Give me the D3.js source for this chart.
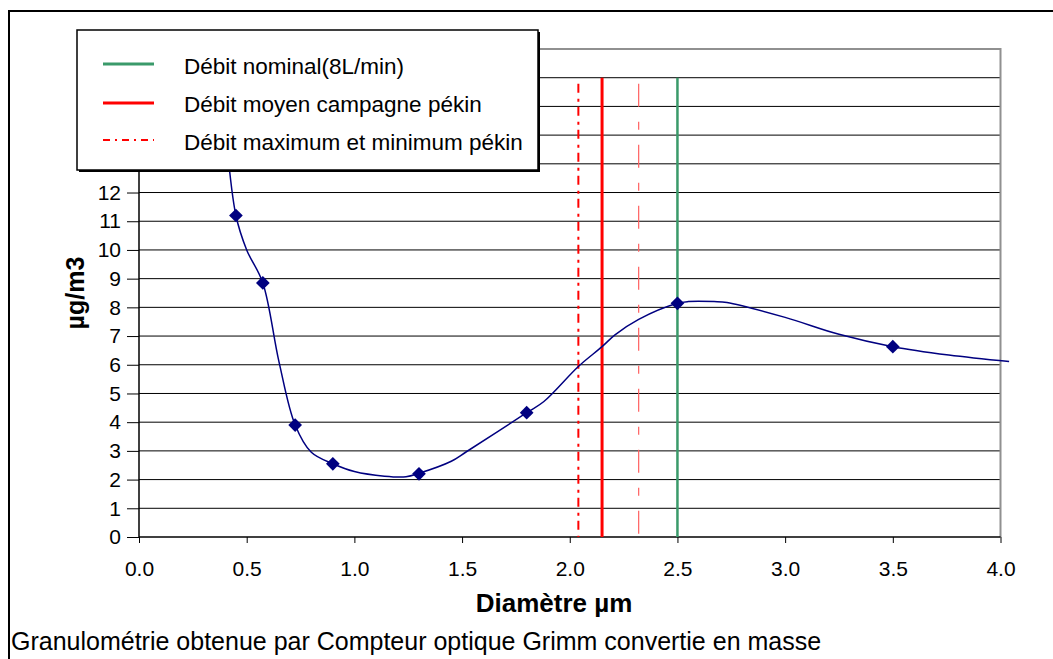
<!DOCTYPE html>
<html><head><meta charset="utf-8">
<script src="https://cdn.jsdelivr.net/npm/d3@7/dist/d3.min.js"></script>
<style>
body{margin:0;background:#fff;}
svg{display:block;font-family:"Liberation Sans",Arial,sans-serif;}
</style></head>
<body>
<svg id="c" width="1053" height="659"></svg>
<script>
// ---- data ----
const markerX = [0.45, 0.575, 0.725, 0.9, 1.3, 1.8, 2.5, 3.5];
const markerY = [11.2, 8.85, 3.9, 2.55, 2.2, 4.33, 8.14, 6.63];
const curveX = [0.35, 0.40, 0.45, 0.50, 0.575, 0.65, 0.725, 0.80, 0.90, 1.00, 1.14, 1.24, 1.30, 1.45, 1.52, 1.80, 1.88, 2.04, 2.15, 2.21, 2.32, 2.50, 2.55, 2.67, 2.73, 3.00, 3.25, 3.50, 3.76, 4.04];
const curveY = [19.0, 14.3, 11.2, 10.0, 8.85, 6.1, 3.9, 2.95, 2.55, 2.28, 2.12, 2.1, 2.22, 2.64, 2.97, 4.33, 4.72, 5.94, 6.63, 7.04, 7.58, 8.14, 8.2, 8.2, 8.17, 7.65, 7.06, 6.63, 6.34, 6.11];
const flowX = [2.04, 2.15, 2.32, 2.5];
const flowNames = ["min", "moyen", "max", "nominal"];
const legendLabels = ["Débit nominal(8L/min)", "Débit moyen campagne pékin", "Débit maximum et minimum pékin"];
const xTicks = [0, 0.5, 1, 1.5, 2, 2.5, 3, 3.5, 4];
const yTicks = d3.range(0, 18);
const xTitle = "Diamètre µm";
const yTitle = "µg/m3";
const caption = "Granulométrie obtenue par Compteur optique Grimm convertie en masse";

// ---- layout ----
const svg = d3.select("#c");
const x = d3.scaleLinear().domain([0, 4]).range([139, 1000.5]);
const y = d3.scaleLinear().domain([0, 17]).range([537, 49]);

// outer border
svg.append("rect").attr("x", 9).attr("y", 11).attr("width", 1100).attr("height", 700)
  .attr("fill", "none").attr("stroke", "#000").attr("stroke-width", 2);

// gridlines
svg.append("g").selectAll("line").data(yTicks.filter(d => d > 0 && d < 17)).join("line")
  .attr("x1", x(0)).attr("x2", x(4)).attr("y1", d => y(d)).attr("y2", d => y(d))
  .attr("stroke", "#000").attr("stroke-width", 1);

// plot border (top & right gray)
svg.append("path")
  .attr("d", `M${x(0)},${y(17)}H${x(4)}V${y(0)}`)
  .attr("fill", "none").attr("stroke", "#909090").attr("stroke-width", 2);

// axes
const yAxis = d3.axisLeft(y).tickValues(yTicks).tickSize(12).tickPadding(6).tickFormat(d3.format("d"));
const gy = svg.append("g").attr("transform", `translate(${x(0)},0)`).call(yAxis);
gy.select(".domain").attr("stroke", "#000").attr("stroke-width", 1.5).attr("d", `M0,${y(17)}V${y(0)}`);
gy.selectAll(".tick line").attr("stroke", "#000").attr("x2", -12);
gy.selectAll(".tick text").attr("font-size", 21).attr("fill", "#000").attr("x", -18)
  .attr("font-family", "Liberation Sans, Arial, sans-serif");

const xAxis = d3.axisBottom(x).tickValues(xTicks).tickSize(6).tickFormat(d3.format(".1f"));
const gx = svg.append("g").attr("transform", `translate(0,${y(0)})`).call(xAxis);
gx.select(".domain").attr("stroke", "#000").attr("stroke-width", 1.5).attr("d", `M${x(0)},0H${x(4)}`);
gx.selectAll(".tick line").attr("stroke", "#000");
gx.selectAll(".tick text").attr("font-size", 21).attr("fill", "#000").attr("y", 38.5).attr("dy", 0)
  .attr("font-family", "Liberation Sans, Arial, sans-serif");

// vertical flow lines
const styles = {
  min: {stroke: "#ff0000", w: 2, dash: "9,6,3,5"},
  moyen: {stroke: "#ff0000", w: 3, dash: null},
  max: {stroke: "#ff6060", w: 1.2, dash: "23,15,8,15"},
  nominal: {stroke: "#3a9a6a", w: 2.5, dash: null}
};
svg.append("g").selectAll("line").data(flowX.map((v, i) => ({v, s: styles[flowNames[i]]}))).join("line")
  .attr("x1", d => x(d.v)).attr("x2", d => x(d.v))
  .attr("y1", d => d.s.dash ? y(16) + 6 : y(16)).attr("y2", y(0))
  .attr("stroke", d => d.s.stroke).attr("stroke-width", d => d.s.w)
  .attr("stroke-dasharray", d => d.s.dash);

// curve
svg.append("clipPath").attr("id", "clip").append("rect")
  .attr("x", x(0)).attr("y", y(17)).attr("width", 1010 - x(0)).attr("height", y(0) - y(17));
const line = d3.line().x(d => x(d[0])).y(d => y(d[1])).curve(d3.curveCatmullRom.alpha(0.5));
svg.append("path").datum(curveX.map((v, i) => [v, curveY[i]]))
  .attr("clip-path", "url(#clip)")
  .attr("d", line).attr("fill", "none").attr("stroke", "#000080").attr("stroke-width", 1.5);

// markers
const diamond = d3.symbol().type(d3.symbolDiamond2).size(120);
svg.append("g").selectAll("path").data(markerX.map((v, i) => [v, markerY[i]])).join("path")
  .attr("transform", d => `translate(${x(d[0])},${y(d[1])})`)
  .attr("d", diamond).attr("fill", "#000080");

// axis titles
svg.append("text").attr("x", 554).attr("y", 612).attr("text-anchor", "middle")
  .attr("font-size", 26).attr("font-weight", "bold").text(xTitle);
svg.append("text").attr("transform", "translate(84,293) rotate(-90)").attr("text-anchor", "middle")
  .attr("font-size", 25).attr("font-weight", "bold").text(yTitle);
svg.append("text").attr("x", 11).attr("y", 650).attr("font-size", 25).text(caption);

// legend
const lg = svg.append("g");
lg.append("rect").attr("x", 79).attr("y", 32).attr("width", 461).attr("height", 140).attr("fill", "#000");
lg.append("rect").attr("x", 77).attr("y", 30).attr("width", 461).attr("height", 140)
  .attr("fill", "#fff").attr("stroke", "#000").attr("stroke-width", 1.5);
const legendStyles = [
  {stroke: "#3a9a6a", w: 3, dash: null},
  {stroke: "#ff0000", w: 3, dash: null},
  {stroke: "#ff0000", w: 2, dash: "7,5,2,5"}
];
const rowsY = [64, 103, 140];
const textY = [74, 112, 150];
legendLabels.forEach((t, i) => {
  lg.append("line").attr("x1", 103).attr("x2", 154).attr("y1", rowsY[i]).attr("y2", rowsY[i])
    .attr("stroke", legendStyles[i].stroke).attr("stroke-width", legendStyles[i].w)
    .attr("stroke-dasharray", legendStyles[i].dash);
  lg.append("text").attr("x", 184).attr("y", textY[i])
    .attr("font-size", 22.5).text(t);
});
</script>
</body></html>
